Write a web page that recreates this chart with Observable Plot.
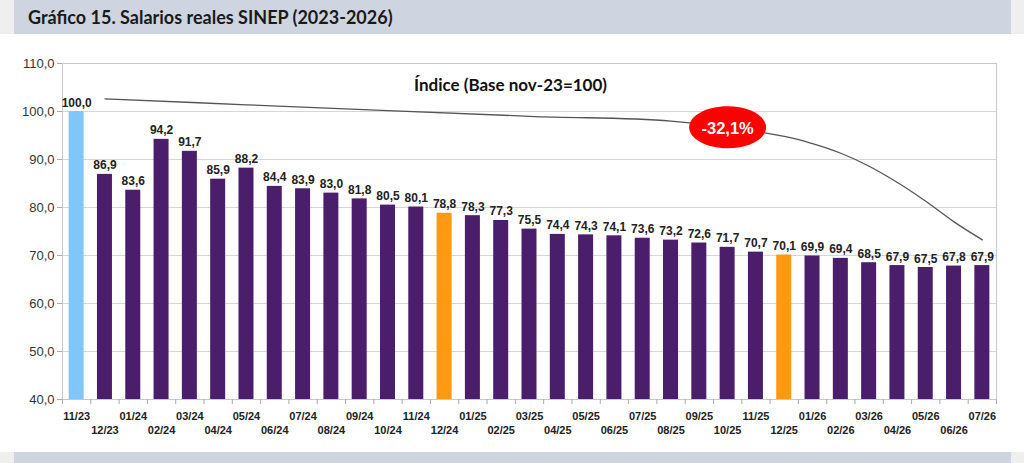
<!DOCTYPE html>
<html><head><meta charset="utf-8">
<script src="https://cdn.jsdelivr.net/npm/d3@7"></script>
<script src="https://cdn.jsdelivr.net/npm/@observablehq/plot@0.6"></script>
<style>
html,body{margin:0;padding:0;background:#fff;width:1024px;height:463px;overflow:hidden}
.band{position:relative;background:#efefef}
.top{height:34px}
.bottom{height:11px}
.inner{position:absolute;left:14px;right:13px;top:0;bottom:0;background:#cfd4e1}
.title{position:absolute;left:14px;top:6px;font-family:Lato,"Open Sans",sans-serif;font-weight:700;font-size:18px;color:#1a1a1a;white-space:nowrap}
#chart{height:418px}
#chart svg{display:block}
</style></head><body>
<div class="band top"><div class="inner"><div class="title">Gráfico 15. Salarios reales SINEP (2023-2026)</div></div></div>
<div id="chart"></div>
<div class="band bottom"><div class="inner"></div></div>
<script>
const months = ["11/23","12/23","01/24","02/24","03/24","04/24","05/24","06/24","07/24","08/24","09/24","10/24","11/24","12/24","01/25","02/25","03/25","04/25","05/25","06/25","07/25","08/25","09/25","10/25","11/25","12/25","01/26","02/26","03/26","04/26","05/26","06/26","07/26"];
const values = [100.0,86.9,83.6,94.2,91.7,85.9,88.2,84.4,83.9,83.0,81.8,80.5,80.1,78.8,78.3,77.3,75.5,74.4,74.3,74.1,73.6,73.2,72.6,71.7,70.7,70.1,69.9,69.4,68.5,67.9,67.5,67.8,67.9];
const baseMonth = "11/23";
const decemberMonths = ["12/24","12/25"];
const yTicks = [40,50,60,70,80,90,100,110];
const indexTitle = "Índice (Base nov-23=100)";
const curveMonths = ["12/23","05/24","03/25","08/25","12/25","01/26","02/26","03/26","04/26","05/26","06/26","07/26"];
const curveValues = [102.65,101.4,99.0,98.0,94.8,93.3,91.3,88.6,85.2,81.3,77.0,73.25];
const badgeMonth = "10/25";
const badgeValue = 96.7;
const badgeText = "-32,1%";

const data = months.map((m,i)=>({month:m, value:values[i]}));
const curve = curveMonths.map((m,i)=>({month:m, value:curveValues[i]}));

const W=1024, H=418, mL=62, mR=28, mT=29, mB=53;
const step = (W-mL-mR)/months.length;
const fmt = d => d.toFixed(1).replace(".", ",");
const fillFor = d => d.month===baseMonth ? "#80c6fa" : decemberMonths.includes(d.month) ? "#ff9812" : "#4b1e6c";
const evenMonths = months.filter((m,i)=>i%2===0);
const oddMonths = months.filter((m,i)=>i%2===1);

const ellipse = {draw(ctx){const rx=38.5, ry=21, k=0.5523, kx=rx*k, ky=ry*k;
  ctx.moveTo(rx,0); ctx.bezierCurveTo(rx,ky,kx,ry,0,ry); ctx.bezierCurveTo(-kx,ry,-rx,ky,-rx,0);
  ctx.bezierCurveTo(-rx,-ky,-kx,-ry,0,-ry); ctx.bezierCurveTo(kx,-ry,rx,-ky,rx,0); ctx.closePath();}};

const chart = Plot.plot({
  width:W, height:H, marginLeft:mL, marginRight:mR, marginTop:mT, marginBottom:mB,
  x:{type:"band", domain:months, paddingInner:0.47, paddingOuter:0.235, round:false, label:null},
  y:{domain:[40,110], label:null},
  style:{fontFamily:"'Liberation Sans', Arial, sans-serif", background:"#fff", color:"#333", overflow:"visible"},
  marks:[
    Plot.gridY(yTicks, {stroke:"#d6d6d6", strokeOpacity:1}),
    Plot.frame({stroke:"#c8c8c8"}),
    Plot.barY(data, {x:"month", y1:40, y2:"value", fill:fillFor}),
    Plot.text(data, {x:"month", y:"value", text:d=>fmt(d.value), lineAnchor:"bottom", dy:-5, fontSize:12, fontWeight:"bold", fill:"#222"}),
    Plot.line(curve, {x:"month", y:"value", curve:"catmull-rom", stroke:"#555", strokeWidth:1.3}),
    Plot.dot([badgeText], {x:()=>badgeMonth, y:()=>badgeValue, r:20, symbol:ellipse, fill:"#ff0000", stroke:null}),
    Plot.text([badgeText], {x:()=>badgeMonth, y:()=>badgeValue, text:d=>d, fill:"#fff", fontSize:16.5, fontWeight:"bold", dy:1}),
    Plot.text([indexTitle], {frameAnchor:"top", text:d=>d, dx:-19, dy:15, lineAnchor:"top", fontSize:17, fontWeight:"bold", fontFamily:"Lato, 'Open Sans', sans-serif", fill:"#111"}),
    Plot.axisY({ticks:yTicks, tickFormat:fmt, tickSize:5, tickPadding:3, fontSize:13, fill:"#333", stroke:"#aaa", label:null}),
    Plot.axisX({tickSize:5, tickFormat:()=>"", dx:step/2, stroke:"#aaa", label:null}),
    Plot.axisX({ticks:[months[0]], tickSize:5, tickFormat:()=>"", dx:-step/2, stroke:"#aaa", label:null}),
    Plot.axisX({ticks:evenMonths, tickSize:0, tickPadding:13, fontSize:11, fontWeight:"bold", fill:"#222", label:null}),
    Plot.axisX({ticks:oddMonths, tickSize:0, tickPadding:27, fontSize:11, fontWeight:"bold", fill:"#222", label:null})
  ]
});
document.getElementById("chart").appendChild(chart);
</script>
</body></html>
